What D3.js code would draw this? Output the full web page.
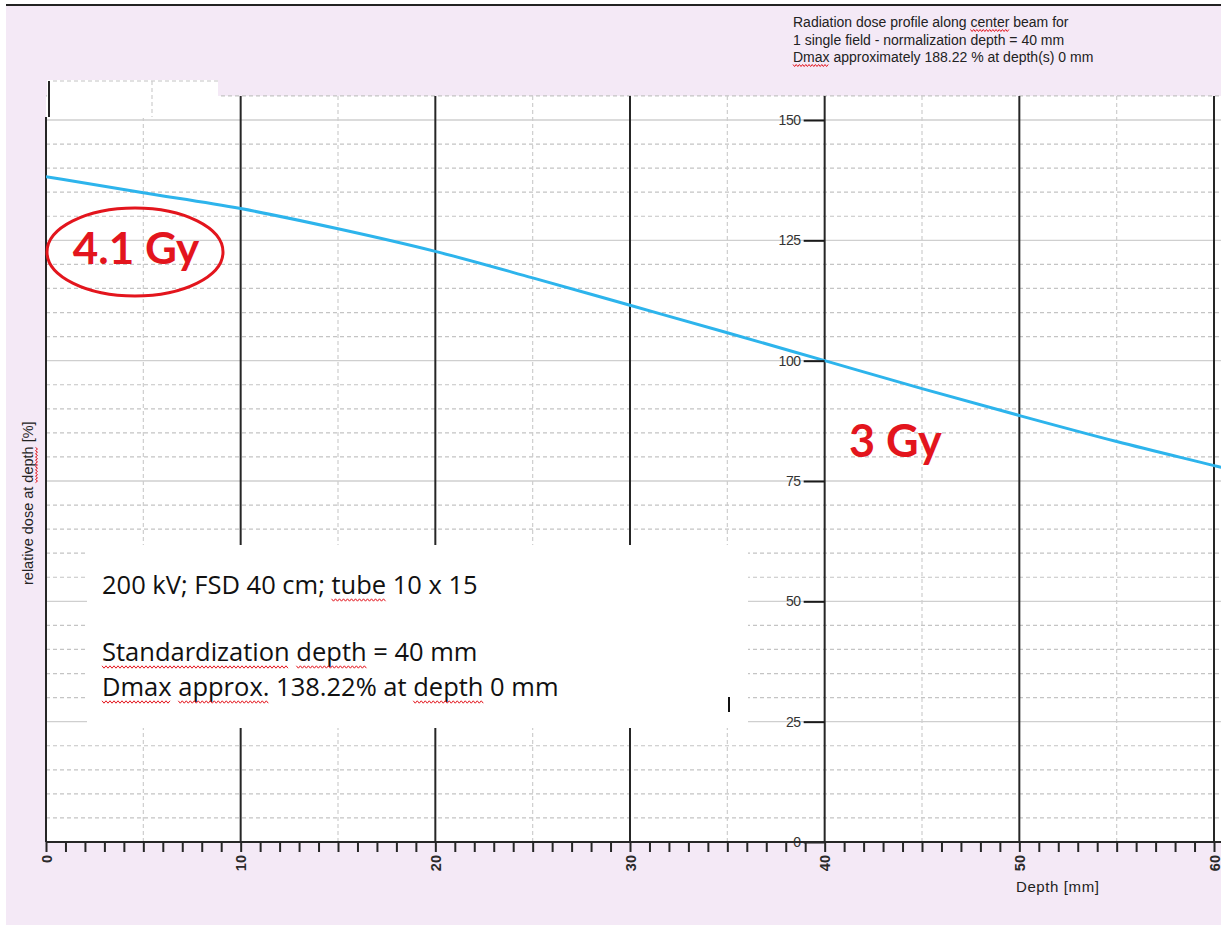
<!DOCTYPE html>
<html>
<head>
<meta charset="utf-8">
<script src="https://cdn.jsdelivr.net/npm/d3@7"></script>
<style>
  html, body { margin: 0; padding: 0; background: #ffffff; }
  svg { display: block; }
</style>
</head>
<body>
<svg id="chart" width="1221" height="925"></svg>
<script>
// Depth dose profile along the central beam (single field, normalised at 40 mm)
const depthMm = [0, 5, 10, 15, 20, 25, 30, 35, 40, 45, 50, 55, 60, 60.4];
const dosePct = [138.22, 134.9, 131.6, 127.4, 122.7, 117.2, 111.5, 105.8, 100, 94.2, 88.6, 83.2, 78.2, 77.8];

const xLabelTicks = [0, 10, 20, 30, 40, 50, 60];
const yLabelTicks = [0, 25, 50, 75, 100, 125, 150];

const headerLines = [
  { text: "Radiation dose profile along center beam for", marks: ["center"] },
  { text: "1 single field - normalization depth = 40 mm", marks: [] },
  { text: "Dmax approximately 188.22 % at depth(s) 0 mm", marks: ["Dmax"] }
];

const infoLines = [
  { text: "200 kV; FSD 40 cm; tube 10 x 15", marks: ["tube"] },
  { text: "Standardization depth = 40 mm", marks: ["Standardization", "depth"] },
  { text: "Dmax approx. 138.22% at depth 0 mm", marks: ["Dmax", "approx.", "depth"] }
];

const doseAtSurface = "4.1 Gy";
const doseAtNormDepth = "3 Gy";

const W = 1221, H = 925;
const svg = d3.select("#chart");

const x = d3.scaleLinear().domain([0, 60]).range([46, 1214]);
const y = d3.scaleLinear().domain([0, 150]).range([842, 120]);
const xRight = W;            // plot area runs off the right edge
const yTop = y(155);

const RED = "#e3151d";
const BLUE = "#2db4ec";
const SANS = "'Liberation Sans', Arial, sans-serif";

// page background
svg.append("rect").attr("x", 6).attr("y", 5).attr("width", W - 6).attr("height", H - 5)
  .attr("fill", "#f4e9f6");
svg.append("line").attr("x1", 6).attr("x2", W).attr("y1", 5).attr("y2", 5)
  .attr("stroke", "#222").attr("stroke-width", 2);

// plot area
svg.append("rect").attr("x", x(0)).attr("y", yTop)
  .attr("width", xRight - x(0)).attr("height", y(0) - yTop).attr("fill", "#fff");

svg.append("defs").append("clipPath").attr("id", "plotclip")
  .append("rect").attr("x", x(0)).attr("y", yTop)
  .attr("width", xRight - x(0)).attr("height", y(0) - yTop);

const grid = svg.append("g");
// horizontal grid: solid every 25 %, dashed every 5 %
d3.range(5, 156, 5).forEach(v => {
  const major = v % 25 === 0;
  grid.append("line")
    .attr("x1", x(0)).attr("x2", xRight).attr("y1", y(v)).attr("y2", y(v))
    .attr("stroke", major ? "#cfcfcf" : "#c4c4c4")
    .attr("stroke-width", major ? 1.3 : 1.2)
    .attr("stroke-dasharray", major ? null : "4,3");
});
// vertical grid: dashed every 5 mm, solid black every 10 mm
d3.range(5, 61, 10).forEach(v => {
  grid.append("line")
    .attr("x1", x(v)).attr("x2", x(v)).attr("y1", yTop).attr("y2", y(0))
    .attr("stroke", "#cdcdcd").attr("stroke-width", 1.2).attr("stroke-dasharray", "4,3");
});
d3.range(10, 61, 10).forEach(v => {
  grid.append("line")
    .attr("x1", x(v)).attr("x2", x(v)).attr("y1", yTop).attr("y2", y(0))
    .attr("stroke", "#262626").attr("stroke-width", 2);
});
// left border
grid.append("line").attr("x1", x(0)).attr("x2", x(0)).attr("y1", 117).attr("y2", y(0))
  .attr("stroke", "#262626").attr("stroke-width", 2);

// dose curve
svg.append("path")
  .datum(depthMm.map((d, i) => [d, dosePct[i]]))
  .attr("clip-path", "url(#plotclip)")
  .attr("fill", "none").attr("stroke", BLUE).attr("stroke-width", 3)
  .attr("d", d3.line().x(d => x(d[0])).y(d => y(d[1])).curve(d3.curveMonotoneX));

// offset frame fragment at the top left corner
const patch = svg.append("g");
patch.append("rect").attr("x", 47).attr("y", 80).attr("width", 171).attr("height", 38).attr("fill", "#fff");
patch.append("line").attr("x1", 53).attr("x2", 218).attr("y1", 81).attr("y2", 81)
  .attr("stroke", "#c4c4c4").attr("stroke-width", 1.2).attr("stroke-dasharray", "4,3");
patch.append("line").attr("x1", 152).attr("x2", 152).attr("y1", 81).attr("y2", 117)
  .attr("stroke", "#cdcdcd").attr("stroke-width", 1.2).attr("stroke-dasharray", "4,3");
patch.append("line").attr("x1", 49).attr("x2", 49).attr("y1", 81).attr("y2", 117)
  .attr("stroke", "#262626").attr("stroke-width", 2);

// text box with beam parameters
svg.append("rect").attr("x", 87).attr("y", 545).attr("width", 661).attr("height", 183).attr("fill", "#fff");
svg.append("line").attr("x1", 729).attr("x2", 729).attr("y1", 697).attr("y2", 712)
  .attr("stroke", "#111").attr("stroke-width", 2);

// y axis on the 40 mm line
const yAxis = svg.append("g").attr("transform", `translate(${x(40)},0)`)
  .call(d3.axisLeft(y).tickValues(yLabelTicks).tickSize(21).tickPadding(3));
yAxis.select(".domain").remove();
yAxis.selectAll(".tick line").attr("stroke", "#1a1a1a").attr("stroke-width", 2);
yAxis.selectAll(".tick text").attr("fill", "#333")
  .style("font-family", SANS).style("font-size", "14px").style("letter-spacing", "-0.4px");

// x axis with millimetre ticks
const xAxis = svg.append("g").attr("transform", `translate(0,${y(0)})`)
  .call(d3.axisBottom(x).tickValues(d3.range(0, 61, 1)).tickSize(10)
    .tickFormat(d => xLabelTicks.includes(d) ? d : ""));
xAxis.select(".domain").attr("d", `M${x(0)},0H${xRight}`).attr("stroke", "#262626").attr("stroke-width", 2);
xAxis.selectAll(".tick line").attr("stroke", "#262626").attr("stroke-width", 2);
xAxis.selectAll(".tick text")
  .attr("transform", "rotate(-90)").attr("text-anchor", "end")
  .attr("x", -13).attr("y", 0).attr("dy", "0.35em").attr("fill", "#2a2a2a")
  .style("font-family", SANS).style("font-size", "14.5px").style("font-weight", "bold");

// axis titles
svg.append("text").attr("x", 1016).attr("y", 892).text("Depth [mm]")
  .attr("fill", "#222").style("font-family", SANS).style("font-size", "15px").style("letter-spacing", "0.6px");

const yTitle = svg.append("g").attr("transform", "translate(33,585) rotate(-90)");
const yTitleText = yTitle.append("text").attr("x", 0).attr("y", 0).text("relative dose at depth [%]")
  .attr("fill", "#222").style("font-family", SANS).style("font-size", "14.5px");

// red wavy underline below a word of a text element
function squiggle(group, textEl, word, baseY, amp, step) {
  const node = textEl.node();
  const full = node.textContent;
  const idx = full.indexOf(word);
  if (idx < 0) return;
  const x0 = +textEl.attr("x") + (idx > 0 ? node.getSubStringLength(0, idx) : 0);
  const w = node.getSubStringLength(idx, word.length);
  const pts = [];
  for (let i = 0, px = x0; px <= x0 + w; i++, px += step) pts.push([px, baseY + (i % 2 ? amp : -amp)]);
  group.append("path").attr("d", d3.line()(pts)).attr("fill", "none")
    .attr("stroke", RED).attr("stroke-width", 1);
}
squiggle(yTitle, yTitleText, "depth", 3.5, 1, 1.6);

// header text
const header = svg.append("g");
headerLines.forEach((ln, i) => {
  const by = 27 + i * 17.5;
  const t = header.append("text").attr("x", 793).attr("y", by).text(ln.text)
    .attr("fill", "#222").style("font-family", SANS).style("font-size", "14px");
  ln.marks.forEach(m => squiggle(header, t, m, by + 3.5, 1, 1.6));
});

// beam parameter text
const info = svg.append("g");
const infoY = [594, 661, 696];
infoLines.forEach((ln, i) => {
  const t = info.append("text").attr("x", 102).attr("y", infoY[i]).text(ln.text)
    .attr("fill", "#111").style("font-family", "'Open Sans', sans-serif").style("font-size", "25.5px");
  ln.marks.forEach(m => squiggle(info, t, m, infoY[i] + 6, 1.2, 2));
});

// dose annotations
svg.append("ellipse").attr("cx", 135).attr("cy", 252).attr("rx", 88).attr("ry", 44)
  .attr("fill", "none").attr("stroke", RED).attr("stroke-width", 3);
svg.append("text").attr("x", 136).attr("y", 264).attr("text-anchor", "middle").text(doseAtSurface)
  .attr("fill", RED).style("font-family", "Lato, sans-serif").style("font-weight", "700").style("font-size", "44px");
svg.append("text").attr("x", 849).attr("y", 457).text(doseAtNormDepth)
  .attr("fill", RED).style("font-family", "Lato, sans-serif").style("font-weight", "700").style("font-size", "45px");
</script>
</body>
</html>
